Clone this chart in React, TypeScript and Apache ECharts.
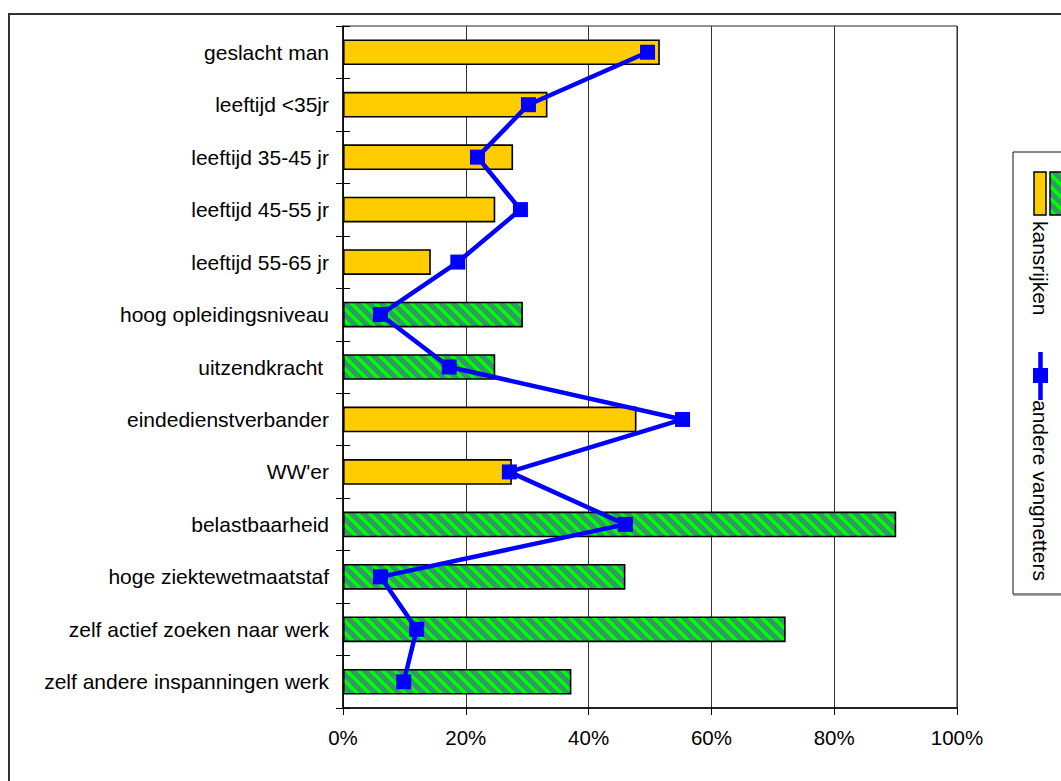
import React, { useEffect, useRef } from "react";
import * as echarts from "echarts";

const categories = [
  "geslacht man",
  "leeftijd <35jr",
  "leeftijd 35-45 jr",
  "leeftijd 45-55 jr",
  "leeftijd 55-65 jr",
  "hoog opleidingsniveau",
  "uitzendkracht ",
  "eindedienstverbander",
  "WW'er",
  "belastbaarheid",
  "hoge ziektewetmaatstaf",
  "zelf actief zoeken naar werk",
  "zelf andere inspanningen werk",
];

// kansrijken (bars), in %
const kansrijken = [51.6, 33.3, 27.7, 24.8, 14.3, 29.3, 24.8, 47.8, 27.5, 90.1, 46.0, 72.1, 37.2];
// andere vangnetters (line), in %
const andereVangnetters = [49.6, 30.2, 21.9, 28.9, 18.7, 6.1, 17.3, 55.3, 27.1, 46.0, 6.1, 12.0, 9.9];
// which bars are drawn hatched (second group of characteristics)
const hatchedGroup = [false, false, false, false, false, true, true, false, false, true, true, true, true];

const xTicks = [0, 20, 40, 60, 80, 100];

const SERIES_BAR = "kansrijken";
const SERIES_LINE = "andere vangnetters";

function makeHatch(): string {
  const P = 12;
  const c = document.createElement("canvas");
  c.width = P;
  c.height = P;
  const ctx = c.getContext("2d")!;
  ctx.fillStyle = "#339966";
  ctx.fillRect(0, 0, P, P);
  ctx.strokeStyle = "#00FF00";
  ctx.lineWidth = 3.4;
  for (const k of [-P, 0, P]) {
    ctx.beginPath();
    ctx.moveTo(k - 2, -2);
    ctx.lineTo(k + P + 2, P + 2);
    ctx.stroke();
  }
  return c.toDataURL();
}

export default function App() {
  const ref = useRef<HTMLDivElement>(null);

  useEffect(() => {
    if (!ref.current) return;
    const chart = echarts.init(ref.current, undefined, { renderer: "svg" });
    const hatchUrl = makeHatch();
    const hatch: any = { image: hatchUrl, repeat: "repeat", imageWidth: 12, imageHeight: 12 };
    const font = "Liberation Sans, Arial, sans-serif";

    const barData = kansrijken.map((v, i) => ({
      value: v,
      itemStyle: { color: hatchedGroup[i] ? hatch : "#FFCC00" },
    }));

    chart.setOption({
      animation: false,
      backgroundColor: "#ffffff",
      grid: {
        left: 343,
        top: 26,
        right: 104,
        bottom: 73,
        show: true,
        borderColor: "#222",
        borderWidth: 1,
        backgroundColor: "transparent",
      },
      xAxis: {
        type: "value",
        min: xTicks[0],
        max: xTicks[xTicks.length - 1],
        interval: 20,
        axisLine: { show: true, lineStyle: { color: "#000", width: 1.5 } },
        axisTick: { show: true, length: 7, lineStyle: { color: "#000" } },
        axisLabel: {
          formatter: "{value}%",
          color: "#000",
          fontFamily: font,
          fontSize: 20.5,
          margin: 19,
        },
        splitLine: { show: true, lineStyle: { color: "#333", width: 1 } },
      },
      yAxis: [
        {
          type: "category",
          data: categories,
          inverse: true,
          position: "left",
          axisLine: { show: true, lineStyle: { color: "#000", width: 1.5 } },
          axisTick: { show: true, length: 7, lineStyle: { color: "#000" } },
          axisLabel: {
            color: "#000",
            fontFamily: font,
            fontSize: 21,
            margin: 14,
          },
          splitLine: { show: false },
        },
        {
          type: "category",
          data: categories,
          inverse: true,
          position: "left",
          offset: 0,
          axisLine: { show: false },
          axisTick: { show: true, inside: true, length: 7, lineStyle: { color: "#000" } },
          axisLabel: { show: false },
          splitLine: { show: false },
        },
      ],
      series: [
        {
          name: SERIES_BAR,
          type: "bar",
          yAxisIndex: 0,
          data: barData,
          barCategoryGap: "51%",
          itemStyle: { borderColor: "#000", borderWidth: 1.6 },
          z: 2,
        },
        {
          name: SERIES_LINE,
          type: "line",
          yAxisIndex: 0,
          data: andereVangnetters,
          symbol: "rect",
          symbolSize: 15,
          color: "#0000FF",
          lineStyle: { color: "#0000FF", width: 4.5 },
          itemStyle: { color: "#0000FF" },
          z: 5,
        },
      ],
      graphic: [
        {
          type: "rect",
          shape: { x: 9, y: 14, width: 1200, height: 900 },
          style: { fill: "none", stroke: "#333", lineWidth: 2 },
          silent: true,
          z: 0,
        },
        {
          type: "rect",
          shape: { x: 1013, y: 152, width: 100, height: 442 },
          style: { fill: "#fff", stroke: "#111", lineWidth: 1 },
          z: 10,
        },
        {
          type: "line",
          shape: { x1: 1013, y1: 595, x2: 1061, y2: 595 },
          style: { stroke: "#888", lineWidth: 1.5 },
          z: 10,
        },
        {
          type: "rect",
          shape: { x: 1034, y: 172, width: 12, height: 43 },
          style: { fill: "#FFCC00", stroke: "#000", lineWidth: 1.5 },
          z: 11,
        },
        {
          type: "rect",
          shape: { x: 1050, y: 172, width: 20, height: 43 },
          style: { fill: hatch, stroke: "#000", lineWidth: 1.5 },
          z: 11,
        },
        {
          type: "text",
          x: 1040,
          y: 221,
          rotation: -Math.PI / 2,
          style: {
            text: SERIES_BAR,
            fill: "#000",
            font: `21px ${font}`,
            align: "left",
            verticalAlign: "middle",
          },
          z: 11,
        },
        {
          type: "line",
          shape: { x1: 1040.5, y1: 352, x2: 1040.5, y2: 400 },
          style: { stroke: "#0000FF", lineWidth: 4.5 },
          z: 11,
        },
        {
          type: "rect",
          shape: { x: 1033, y: 368, width: 15, height: 15 },
          style: { fill: "#0000FF" },
          z: 12,
        },
        {
          type: "text",
          x: 1040,
          y: 400,
          rotation: -Math.PI / 2,
          style: {
            text: SERIES_LINE,
            fill: "#000",
            font: `21px ${font}`,
            align: "left",
            verticalAlign: "middle",
          },
          z: 11,
        },
      ],
    });

    return () => {
      chart.dispose();
    };
  }, []);

  return (
    <div
      ref={ref}
      style={{ position: "fixed", left: 0, top: 0, width: 1061, height: 781, background: "#fff" }}
    />
  );
}
